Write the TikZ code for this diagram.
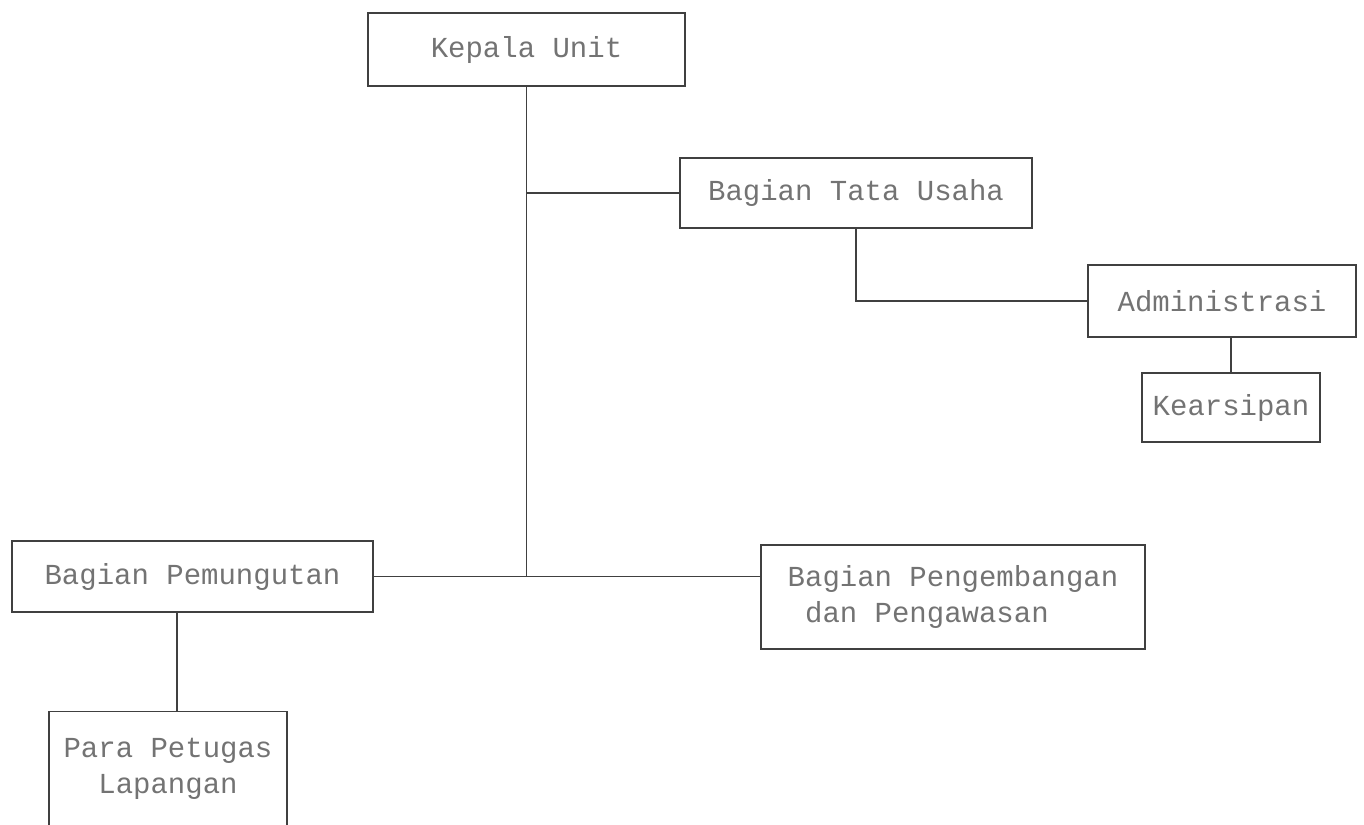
\documentclass[tikz,border=0pt]{standalone}
\usepackage{fontspec}
\setmonofont{Liberation Mono}
\usetikzlibrary{positioning}
\tikzstyle{unit} = [rectangle, draw=black!75, line width=1pt, text=black!55, font=\ttfamily\fontsize{16.5}{20.5}\selectfont, inner sep=0pt]
\tikzstyle{garis} = [draw=black!75, line width=1pt]

\begin{document}
\begin{tikzpicture}

\useasboundingbox (0,0) rectangle (27.28,-16.48);

\node (kepala) [unit, minimum width=6.34cm, minimum height=1.46cm] at (10.53,-0.99) {Kepala Unit};
\node (tatausaha) [unit, minimum width=7.04cm, minimum height=1.40cm] at (17.12,-3.86) {Bagian Tata Usaha};
\node (admin) [unit, minimum width=5.36cm, minimum height=1.44cm] at (24.44,-6.02) {Administrasi};
\node (arsip) [unit, minimum width=3.56cm, minimum height=1.38cm] at (24.62,-8.15) {Kearsipan};
\node (pungut) [unit, minimum width=7.22cm, minimum height=1.42cm] at (3.85,-11.53) {Bagian Pemungutan};
\node (kembang) [unit, minimum width=7.68cm, minimum height=2.08cm, align=left] at (19.06,-11.94) {Bagian Pengembangan\\\phantom{B}dan Pengawasan};
\node (petugas) [unit, minimum width=4.76cm, minimum height=2.30cm, align=center] at (3.36,-15.38) {Para Petugas\\Lapangan};

\coordinate (simpul) at (kepala.south |- pungut.east);

\draw [garis] (kepala.south) -- (simpul);
\draw [garis] (tatausaha.west) -- (tatausaha.west -| kepala.south);
\draw [garis] (pungut.east) -- (pungut.east -| kembang.west);
\draw [garis] (tatausaha.south) |- (admin.west);
\draw [garis] (admin.south -| arsip.north) -- (arsip.north);
\draw [garis] ([xshift=1.8mm]petugas.north) -- ([xshift=1.8mm]petugas.north |- pungut.south);

\end{tikzpicture}
\end{document}
